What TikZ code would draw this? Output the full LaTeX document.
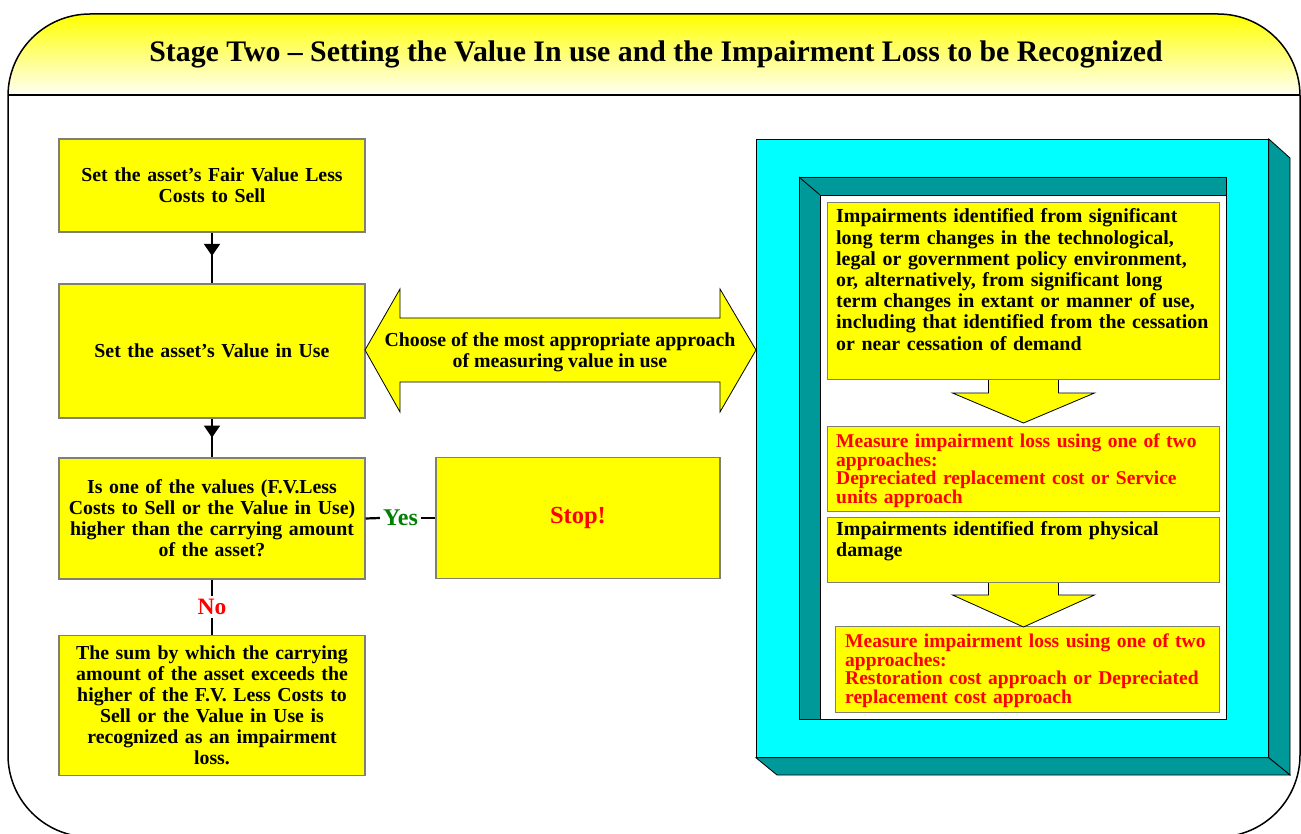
\documentclass[tikz,border=0pt]{standalone}
\usepackage{fontspec}
\setmainfont{Liberation Serif}
\usetikzlibrary{decorations.markings,arrows.meta}
\definecolor{boxyellow}{HTML}{FFFF00}
\definecolor{panelcyan}{HTML}{00FFFF}
\definecolor{panelteal}{HTML}{009999}
\definecolor{boxedge}{HTML}{808070}
\definecolor{yesgreen}{HTML}{008000}
\definecolor{nored}{HTML}{FF0000}
\begin{document}
\begin{tikzpicture}[x=1pt,y=-1pt,
  lbox/.style={draw=boxedge, line width=1.2pt, fill=boxyellow, minimum width=306pt, text width=296pt, align=center, inner sep=0pt, font=\bfseries\fontsize{19.8}{21}\selectfont},
  rbox/.style={draw=boxedge, line width=1pt, fill=boxyellow, anchor=north west, inner sep=0pt},
  rtext/.style={anchor=base west, inner sep=0pt, align=left, text width=400pt, font=\bfseries\fontsize{19.9}{21.2}\selectfont},
  redtext/.style={rtext, text=nored, font=\bfseries\fontsize{19.5}{18.7}\selectfont},
  flow/.style={line width=1.5pt},
  midarrow/.style={postaction={decorate}, decoration={markings, mark=at position #1 with {\arrow{Triangle[width=16pt,length=12pt]}}}},
  blockarrow/.style={draw=black, line width=0.8pt, fill=boxyellow, line join=miter},
  panelline/.style={draw=black, line width=0.8pt},
]
\useasboundingbox (0,0) rectangle (1301,834);

% title band and frame
\begin{scope}
  \clip[rounded corners=82pt] (8,14) rectangle (1300,837);
  \shade[top color=boxyellow, bottom color=yellow!4] (8,14) rectangle (1300,95);
\end{scope}
\draw[line width=1.5pt, rounded corners=82pt] (8,14) rectangle (1300,837);
\draw[line width=1.5pt] (8,95) -- (1300,95);
\node[font=\bfseries\fontsize{29.8}{32}\selectfont] (title) at (656,54) {Stage Two -- Setting the Value In use and the Impairment Loss to be Recognized};

% left column
\node[lbox, minimum height=93pt] (fv) at (212,185.5) {Set the asset's Fair Value Less\\Costs to Sell};
\node[lbox, minimum height=134pt] (viu) at (212,351) {Set the asset's Value in Use};
\node[lbox, minimum height=121pt] (cmp) at (212,518.5) {Is one of the values (F.V.Less\\Costs to Sell or the Value in Use)\\higher than the carrying amount\\of the asset?};
\node[lbox, minimum height=140pt] (loss) at (212,705.5) {The sum by which the carrying\\amount of the asset exceeds the\\higher of the F.V. Less Costs to\\Sell or the Value in Use is\\recognized as an impairment\\loss.};
\node[lbox, minimum width=284pt, text width=270pt, minimum height=121pt, text=nored, font=\bfseries\fontsize{24.5}{26}\selectfont] (stop) at (578,518) {Stop!};

\draw[flow, midarrow=0.46] (fv.south) -- (viu.north);
\draw[flow, midarrow=0.49] (viu.south) -- (cmp.north);
\node[text=yesgreen, font=\bfseries\fontsize{24}{25}\selectfont, inner sep=3pt] (yes) at (400.5,518) {Yes};
\draw[line width=2.2pt] (cmp.east) -- (yes.west);
\draw[line width=2.2pt] (yes.east) -- (stop.west);
\node[text=nored, font=\bfseries\fontsize{23.5}{25}\selectfont, inner sep=3pt] (no) at (212,607) {No};
\draw[flow] (cmp.south) -- (no.north);
\draw[flow] (no.south) -- (loss.north);

% double arrow
\draw[blockarrow] (365,350) -- (400,289) -- (400,318) -- (720,318) -- (720,289) -- (756,350) -- (720,412) -- (720,382) -- (400,382) -- (400,412) -- cycle;
\node[font=\bfseries\fontsize{19.8}{21}\selectfont, align=center] (choose) at (560,352) {Choose of the most appropriate approach\\of measuring value in use};

% right panel
\node[panelline, fill=panelcyan, anchor=north west, inner sep=0pt, minimum width=512pt, minimum height=618pt] (panel) at (756,139) {};
\draw[panelline, fill=panelteal] (panel.north east) -- (1290,158) -- (1290,775) -- (panel.south east) -- cycle;
\draw[panelline, fill=panelteal] (panel.south west) -- (777,775) -- (1290,775) -- (panel.south east) -- cycle;
\node[panelline, fill=white, anchor=north west, inner sep=0pt, minimum width=427pt, minimum height=542pt] (inner) at (799,177) {};
\draw[panelline, fill=panelteal] (799,177) -- (1226,177) -- (1226,195) -- (820,195) -- (820,719) -- (799,719) -- cycle;
\draw[panelline] (799,177) -- (820,195);

\node[rbox, minimum width=392pt, minimum height=177pt] (r1) at (827,202) {};
\node[rtext] (t1) at (836,223) {Impairments identified from significant\\long term changes in the technological,\\legal or government policy environment,\\or, alternatively, from significant long\\term changes in extant or manner of use,\\including that identified from the cessation\\or near cessation of demand};
\node[rbox, minimum width=392pt, minimum height=85pt] (r2) at (827,426) {};
\node[redtext] (t2) at (836,447.5) {Measure impairment loss using one of two\\approaches:\\Depreciated replacement cost or Service\\units approach};
\node[rbox, minimum width=392pt, minimum height=65pt] (r3) at (827,517) {};
\node[rtext] (t3) at (836,535) {Impairments identified from physical\\damage};
\node[rbox, minimum width=384pt, minimum height=86pt] (r4) at (835,626) {};
\node[redtext] (t4) at (845,647.5) {Measure impairment loss using one of two\\approaches:\\Restoration cost approach or Depreciated\\replacement cost approach};

\draw[blockarrow] (r1.south) ++(-35,0) -- ++(0,13) -- ++(-36,0) -- ++(71,30) -- ++(71,-30) -- ++(-36,0) -- ++(0,-13);
\draw[blockarrow] (r3.south) ++(-35,0) -- ++(0,12) -- ++(-36,0) -- ++(71,32) -- ++(71,-32) -- ++(-36,0) -- ++(0,-12);
\end{tikzpicture}
\end{document}
